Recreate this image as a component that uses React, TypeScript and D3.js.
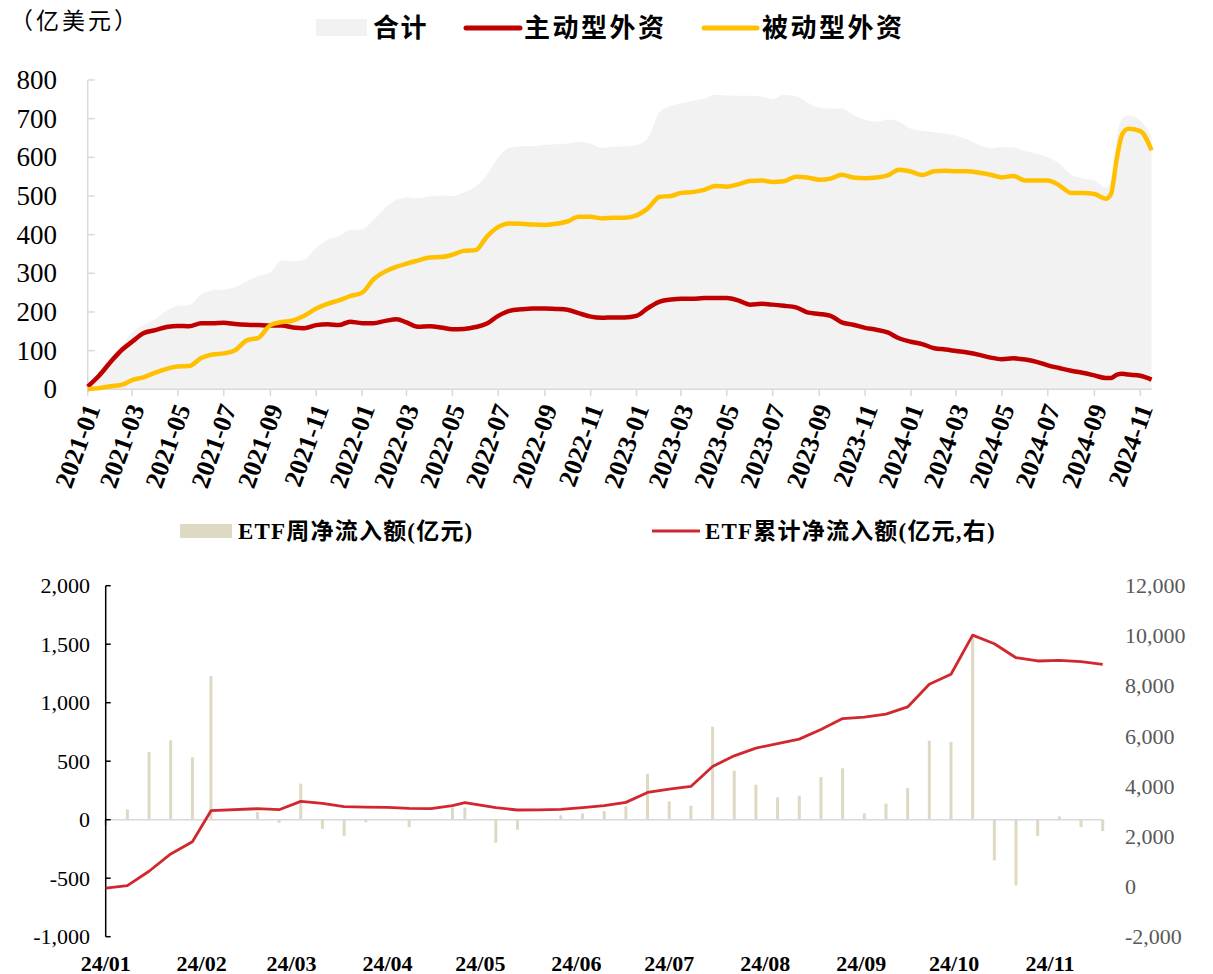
import React from "react"
import * as d3 from "d3"

// ---------- top chart: 外资持仓 (亿美元) ----------
const TOP_DATES = [
  "2021-01-01", "2021-01-16", "2021-02-01", "2021-02-16", "2021-03-01", "2021-03-16",
  "2021-04-01", "2021-04-16", "2021-05-01", "2021-05-16", "2021-06-01", "2021-06-16",
  "2021-07-01", "2021-07-16", "2021-08-01", "2021-08-16", "2021-09-01", "2021-09-16",
  "2021-10-01", "2021-10-16", "2021-11-01", "2021-11-16", "2021-12-01", "2021-12-16",
  "2022-01-01", "2022-01-16", "2022-02-01", "2022-02-16", "2022-03-01", "2022-03-16",
  "2022-04-01", "2022-04-16", "2022-05-01", "2022-05-16", "2022-06-01", "2022-06-16",
  "2022-07-01", "2022-07-16", "2022-08-01", "2022-08-16", "2022-09-01", "2022-09-16",
  "2022-10-01", "2022-10-16", "2022-11-01", "2022-11-16", "2022-12-01", "2022-12-16",
  "2023-01-01", "2023-01-16", "2023-02-01", "2023-02-16", "2023-03-01", "2023-03-16",
  "2023-04-01", "2023-04-16", "2023-05-01", "2023-05-16", "2023-06-01", "2023-06-16",
  "2023-07-01", "2023-07-16", "2023-08-01", "2023-08-16", "2023-09-01", "2023-09-16",
  "2023-10-01", "2023-10-16", "2023-11-01", "2023-11-16", "2023-12-01", "2023-12-16",
  "2024-01-01", "2024-01-16", "2024-02-01", "2024-02-16", "2024-03-01", "2024-03-16",
  "2024-04-01", "2024-04-16", "2024-05-01", "2024-05-16", "2024-06-01", "2024-06-16",
  "2024-07-01", "2024-07-16", "2024-08-01", "2024-08-16", "2024-09-01", "2024-09-16",
  "2024-09-23", "2024-10-01", "2024-10-08", "2024-10-16", "2024-11-01", "2024-11-16",
]

const TOTAL = [
  7, 45, 85, 115, 147, 166, 182, 203, 216, 218, 246, 256, 258, 264, 280, 293, 302, 334, 331, 335, 366, 387, 396, 412,
  414, 437, 470, 490, 497, 494, 499, 501, 500, 509, 525, 555, 600, 625, 629, 629, 632, 634, 636, 640, 635, 624, 628, 628,
  632, 650, 718, 733, 740, 746, 752, 762, 760, 759, 759, 757, 751, 762, 758, 742, 728, 726, 726, 710, 697, 692, 698, 692,
  674, 669, 665, 661, 656, 646, 632, 624, 626, 626, 616, 609, 600, 584, 555, 546, 540, 522,
  540, 655, 700, 708, 695, 655,
]

const ACTIVE = [
  7, 35, 72, 103, 123, 145, 153, 161, 164, 163, 171, 171, 172, 169, 167, 166, 165, 165, 160, 158, 166, 168, 166, 175,
  171, 171, 177, 181, 173, 162, 163, 160, 155, 156, 161, 170, 190, 203, 207, 209, 209, 208, 206, 197, 188, 185, 186, 186,
  190, 210, 227, 232, 234, 234, 236, 236, 236, 230, 219, 221, 219, 216, 212, 199, 195, 190, 173, 167, 159, 154, 147, 132,
  123, 117, 106, 103, 99, 95, 89, 82, 78, 80, 77, 71, 62, 55, 48, 43, 36, 29,
  29, 38, 40, 38, 35, 25,
]

const PASSIVE = [
  0, 3, 8, 12, 24, 31, 43, 53, 59, 60, 81, 90, 93, 101, 127, 133, 166, 174, 178, 190, 209, 221, 230, 241,
  250, 284, 305, 317, 325, 333, 341, 342, 348, 358, 360, 395, 420, 429, 428, 426, 425, 428, 434, 446, 446, 442, 444, 444,
  450, 468, 498, 500, 508, 510, 516, 526, 524, 530, 539, 540, 536, 538, 550, 548, 542, 545, 555, 548, 546, 548, 553, 568,
  563, 554, 564, 565, 564, 564, 560, 555, 548, 552, 540, 540, 540, 528, 508, 508, 505, 493,
  505, 600, 660, 674, 668, 618,
]

const TOP_Y_TICKS = [0, 100, 200, 300, 400, 500, 600, 700, 800]

// ---------- bottom chart: ETF 净流入 (亿元) ----------
const ETF_DATES = [
  "2024-01-01", "2024-01-08", "2024-01-15", "2024-01-22", "2024-01-29", "2024-02-04", "2024-02-19", "2024-02-26",
  "2024-03-04", "2024-03-11", "2024-03-18", "2024-03-25", "2024-04-01", "2024-04-08", "2024-04-15", "2024-04-22",
  "2024-04-26", "2024-05-06", "2024-05-13", "2024-05-20", "2024-05-27", "2024-06-03", "2024-06-10", "2024-06-17",
  "2024-06-24", "2024-07-01", "2024-07-08", "2024-07-15", "2024-07-22", "2024-07-29", "2024-08-05", "2024-08-12",
  "2024-08-19", "2024-08-26", "2024-09-02", "2024-09-09", "2024-09-16", "2024-09-23", "2024-09-30", "2024-10-07",
  "2024-10-14", "2024-10-21", "2024-10-28", "2024-11-04", "2024-11-11", "2024-11-18",
]

const ETF_WEEKLY = [
  -48, 88, 578, 678, 533, 1228, 66, -26, 308, -77, -140, -23, 5, -63, 5, 103,
  103, -197, -85, 8, 37, 54, 74, 114, 393, 157, 120, 795, 419, 299, 191, 205,
  365, 439, 54, 137, 271, 675, 664, 1584, -348, -561, -140, 28, -63, -97,
]

const ETF_CUMULATIVE = [
  -60, 40, 610, 1300, 1790, 3025, 3105, 3065, 3396, 3316, 3185, 3172, 3160, 3117, 3105, 3225,
  3344, 3145, 3053, 3060, 3077, 3145, 3225, 3357, 3754, 3889, 3993, 4790, 5215, 5520, 5705, 5880,
  6262, 6700, 6756, 6875, 7165, 8070, 8466, 10030, 9686, 9128, 8997, 9023, 8970, 8866,
]

const LEFT_TICKS = [-1000, -500, 0, 500, 1000, 1500, 2000]
const RIGHT_TICKS = [-2000, 0, 2000, 4000, 6000, 8000, 10000, 12000]

const FONT = "'Liberation Serif', 'Times New Roman', 'Noto Sans CJK SC', serif"
const CJK = "'Liberation Serif', 'Noto Sans CJK SC', serif"

const parse = d3.timeParse("%Y-%m-%d")
const fmtComma = d3.formatLocale({ decimal: ".", thousands: ",", grouping: [3], currency: ["", ""], minus: "-" }).format(",")

interface Pt {
  date: Date
  v: number
}

export default function App() {
  // ---- top scales ----
  const topDates = TOP_DATES.map((s) => parse(s) as Date)
  const xTop = d3
    .scaleTime()
    .domain([new Date(2021, 0, 1), new Date(2024, 10, 1)])
    .range([87.7, 1140.3])
  const yTop = d3.scaleLinear().domain([0, 800]).range([389.3, 80])

  const totalPts: Pt[] = topDates.map((date, i) => ({ date, v: TOTAL[i] }))
  const activePts: Pt[] = topDates.map((date, i) => ({ date, v: ACTIVE[i] }))
  const passivePts: Pt[] = topDates.map((date, i) => ({ date, v: PASSIVE[i] }))

  const area = d3
    .area<Pt>()
    .x((d) => xTop(d.date))
    .y0(yTop(0))
    .y1((d) => yTop(d.v))
    .curve(d3.curveMonotoneX)
  const topLine = d3
    .line<Pt>()
    .x((d) => xTop(d.date))
    .y((d) => yTop(d.v))
    .curve(d3.curveMonotoneX)

  const topTicks = d3.timeMonth.every(2)!.range(new Date(2021, 0, 1), new Date(2024, 10, 2))
  const fmtTop = d3.timeFormat("%Y-%m")
  const topEndX = xTop(topDates[topDates.length - 1])

  // ---- bottom scales ----
  const etfDates = ETF_DATES.map((s) => parse(s) as Date)
  const xBot = d3
    .scaleTime()
    .domain([new Date(2024, 0, 1), new Date(2024, 10, 18)])
    .range([105.7, 1102.7])
  const yLeft = d3.scaleLinear().domain([-1000, 2000]).range([936.7, 585.7])
  const yRight = d3.scaleLinear().domain([-2000, 12000]).range([936.7, 585.7])

  const cumPts: Pt[] = etfDates.map((date, i) => ({ date, v: ETF_CUMULATIVE[i] }))
  const cumLine = d3
    .line<Pt>()
    .x((d) => xBot(d.date))
    .y((d) => yRight(d.v))

  const monthTicks = d3.timeMonth.range(new Date(2024, 0, 1), new Date(2024, 10, 2))
  const fmtBot = d3.timeFormat("%y/%m")
  const botEndX = xBot(etfDates[etfDates.length - 1])

  return (
    <svg
      width={1213}
      height={974}
      style={{ position: "absolute", left: 0, top: 0, background: "#fff" }}
      fontFamily={FONT}
    >
      {/* ===== top chart ===== */}
      <text x={10} y={21} fontSize={23} fontFamily={CJK} dominantBaseline="central" fill="#000" letterSpacing={3}>
        （亿美元）
      </text>

      {/* legend */}
      <rect x={316} y={19} width={51} height={17} fill="#f2f2f2" />
      <text x={373} y={28} fontSize={26} fontWeight="bold" fontFamily={CJK} dominantBaseline="central" letterSpacing={1.5}>
        合计
      </text>
      <line x1={466} x2={520} y1={28} y2={28} stroke="#c00000" strokeWidth={5} strokeLinecap="round" />
      <text x={524} y={28} fontSize={26} fontWeight="bold" fontFamily={CJK} dominantBaseline="central" letterSpacing={2.5}>
        主动型外资
      </text>
      <line x1={704} x2={757} y1={28} y2={28} stroke="#ffc000" strokeWidth={5} strokeLinecap="round" />
      <text x={762} y={28} fontSize={26} fontWeight="bold" fontFamily={CJK} dominantBaseline="central" letterSpacing={2.5}>
        被动型外资
      </text>

      <path d={area(totalPts) ?? ""} fill="#f2f2f2" />

      {/* y axis */}
      <line x1={xTop.range()[0]} x2={xTop.range()[0]} y1={yTop(800)} y2={yTop(0)} stroke="#d9d9d9" strokeWidth={1.5} />
      {TOP_Y_TICKS.map((t) => (
        <g key={`ty${t}`}>
          <line x1={xTop.range()[0]} x2={xTop.range()[0] + 7} y1={yTop(t)} y2={yTop(t)} stroke="#d9d9d9" strokeWidth={1.5} />
          <text x={57} y={yTop(t)} fontSize={27} textAnchor="end" dominantBaseline="central" fill="#000">
            {t}
          </text>
        </g>
      ))}

      {/* x axis */}
      <line x1={xTop.range()[0]} x2={topEndX} y1={yTop(0)} y2={yTop(0)} stroke="#d9d9d9" strokeWidth={1.5} />
      {topTicks.map((d) => {
        const x = xTop(d)
        return (
          <g key={`tx${+d}`}>
            <line x1={x} x2={x} y1={yTop(0)} y2={yTop(0) + 7} stroke="#d9d9d9" strokeWidth={1.5} />
            <text
              transform={`translate(${x + 5},${yTop(0) + 16}) rotate(-70)`}
              fontSize={26}
              fontWeight="bold"
              textAnchor="end"
              dominantBaseline="central"
              fill="#000"
            >
              {fmtTop(d)}
            </text>
          </g>
        )
      })}

      <path d={topLine(activePts) ?? ""} fill="none" stroke="#c00000" strokeWidth={4.5} strokeLinejoin="round" />
      <path d={topLine(passivePts) ?? ""} fill="none" stroke="#ffc000" strokeWidth={4.5} strokeLinejoin="round" />

      {/* ===== bottom chart ===== */}
      <rect x={180} y={524} width={52} height={14} fill="#ddd9c3" />
      <text x={238} y={531} fontSize={23} fontWeight="bold" fontFamily={CJK} dominantBaseline="central" letterSpacing={1.2}>
        ETF周净流入额(亿元)
      </text>
      <line x1={652} x2={700} y1={531} y2={531} stroke="#d0282e" strokeWidth={3} />
      <text x={705} y={531} fontSize={23} fontWeight="bold" fontFamily={CJK} dominantBaseline="central" letterSpacing={1.2}>
        ETF累计净流入额(亿元,右)
      </text>

      {/* bars */}
      {etfDates.map((d, i) => {
        const v = ETF_WEEKLY[i]
        const y0 = yLeft(0)
        const y1 = yLeft(v)
        return (
          <rect
            key={`b${i}`}
            x={xBot(d) - 1.5}
            width={3}
            y={Math.min(y0, y1)}
            height={Math.abs(y1 - y0)}
            fill="#ddd9c3"
          />
        )
      })}

      {/* zero line */}
      <line x1={xBot.range()[0]} x2={botEndX} y1={yLeft(0)} y2={yLeft(0)} stroke="#d9d9d9" strokeWidth={1.5} />

      {/* left axis */}
      <line x1={xBot.range()[0]} x2={xBot.range()[0]} y1={yLeft(2000)} y2={yLeft(-1000)} stroke="#000" strokeWidth={1.5} />
      {LEFT_TICKS.map((t) => (
        <g key={`l${t}`}>
          <line x1={xBot.range()[0]} x2={xBot.range()[0] + 5} y1={yLeft(t)} y2={yLeft(t)} stroke="#000" strokeWidth={1.5} />
          <text x={90} y={yLeft(t)} fontSize={22} textAnchor="end" dominantBaseline="central" fill="#000">
            {fmtComma(t)}
          </text>
        </g>
      ))}

      {/* right axis labels */}
      {RIGHT_TICKS.map((t) => (
        <text key={`r${t}`} x={1125} y={yRight(t)} fontSize={22} dominantBaseline="central" fill="#595959">
          {fmtComma(t)}
        </text>
      ))}

      {/* month labels */}
      {monthTicks.map((d) => (
        <text key={`m${+d}`} x={xBot(d)} y={963} fontSize={22} fontWeight="bold" textAnchor="middle" dominantBaseline="central" fill="#000">
          {fmtBot(d)}
        </text>
      ))}

      <path d={cumLine(cumPts) ?? ""} fill="none" stroke="#d0282e" strokeWidth={2.8} strokeLinejoin="round" />
    </svg>
  )
}
